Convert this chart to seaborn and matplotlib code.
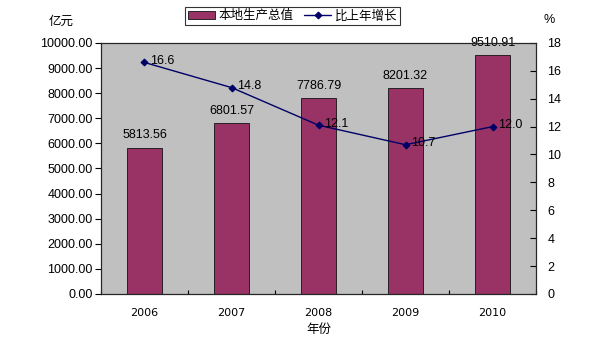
import matplotlib
matplotlib.use('Agg')
import matplotlib.pyplot as plt
import seaborn as sns
import pandas as pd
import numpy as np

years = ['2006', '2007', '2008', '2009', '2010']
gdp = [5813.56, 6801.57, 7786.79, 8201.32, 9510.91]
growth = [16.6, 14.8, 12.1, 10.7, 12.0]

sns.set_style('white')
plt.rcParams['font.family'] = ['Liberation Sans', 'Noto Sans CJK SC', 'DejaVu Sans']
plt.rcParams['text.color'] = 'black'
plt.rcParams['xtick.color'] = 'black'
plt.rcParams['ytick.color'] = 'black'
plt.rcParams['axes.labelcolor'] = 'black'
cjk = ['Noto Sans CJK SC', 'DejaVu Sans']

df = pd.DataFrame({'year': years, 'gdp': gdp, 'growth': growth})

fig = plt.figure(figsize=(6.01, 3.52), dpi=100)
ax = fig.add_axes([0.168, 0.165, 0.724, 0.713])
ax.set_facecolor('#C0C0C0')

# bars: local GDP on the left axis
sns.barplot(data=df, x='year', y='gdp', ax=ax, color='#993366', width=0.4,
            edgecolor='#111111', linewidth=0.6, saturation=1, label='本地生产总值')
for i, v in enumerate(gdp):
    ax.text(i, v + 260, f'{v:.2f}', ha='center', va='bottom', fontsize=9)

ax.set_ylim(0, 10000)
ax.set_yticks(np.arange(0, 10001, 1000))
ax.set_yticklabels([f'{v:.2f}' for v in np.arange(0, 10001, 1000)], fontsize=9)
ax.set_xlim(-0.5, 4.5)
ax.set_xticks(range(5))
ax.set_xticklabels(years, fontsize=8, family='DejaVu Sans')
ax.set_xticks(np.arange(-0.5, 5, 1), minor=True)
ax.tick_params(axis='x', which='major', length=0, pad=10)
ax.tick_params(axis='x', which='minor', length=3, direction='in', width=0.8, bottom=True)
ax.tick_params(axis='y', length=4, direction='out', width=0.8, left=True, pad=2)
ax.set_xlabel('年份', family=cjk, fontsize=9)
ax.set_ylabel('')
for s in ax.spines.values():
    s.set_color('black')
    s.set_linewidth(0.8)

# line: growth rate on the right axis
ax2 = ax.twinx()
sns.pointplot(data=df, x='year', y='growth', ax=ax2, color='#000066', markers='D',
              markersize=3.5, linewidth=1.0, label='比上年增长')
for i, v in enumerate(growth):
    ax2.text(i + 0.06, v + 0.1, f'{v:.1f}', ha='left', va='center', fontsize=9)
ax2.set_ylim(0, 18)
ax2.set_yticks(range(0, 19, 2))
ax2.tick_params(axis='y', length=4, direction='in', width=0.8, right=True, labelsize=9, pad=8)
ax2.set_ylabel('')
ax2.set_xlim(-0.5, 4.5)

if ax.get_legend():
    ax.get_legend().remove()
if ax2.get_legend():
    ax2.get_legend().remove()

fig.text(0.101, 0.94, '亿元', family=cjk, fontsize=9, ha='center', va='center')
fig.text(0.913, 0.943, '%', fontsize=9, ha='center', va='center')

h1, l1 = ax.get_legend_handles_labels()
h2, l2 = ax2.get_legend_handles_labels()
leg = fig.legend(h1 + h2, l1 + l2, loc='center', bbox_to_anchor=(0.487, 0.955), ncol=2,
                 frameon=True, fancybox=False, edgecolor='black',
                 prop={'family': cjk, 'size': 9}, handlelength=2.2, columnspacing=0.8,
                 handletextpad=0.3, borderpad=0.2)
leg.get_frame().set_linewidth(0.8)

fig.savefig('out.png', dpi=100, facecolor='white')
